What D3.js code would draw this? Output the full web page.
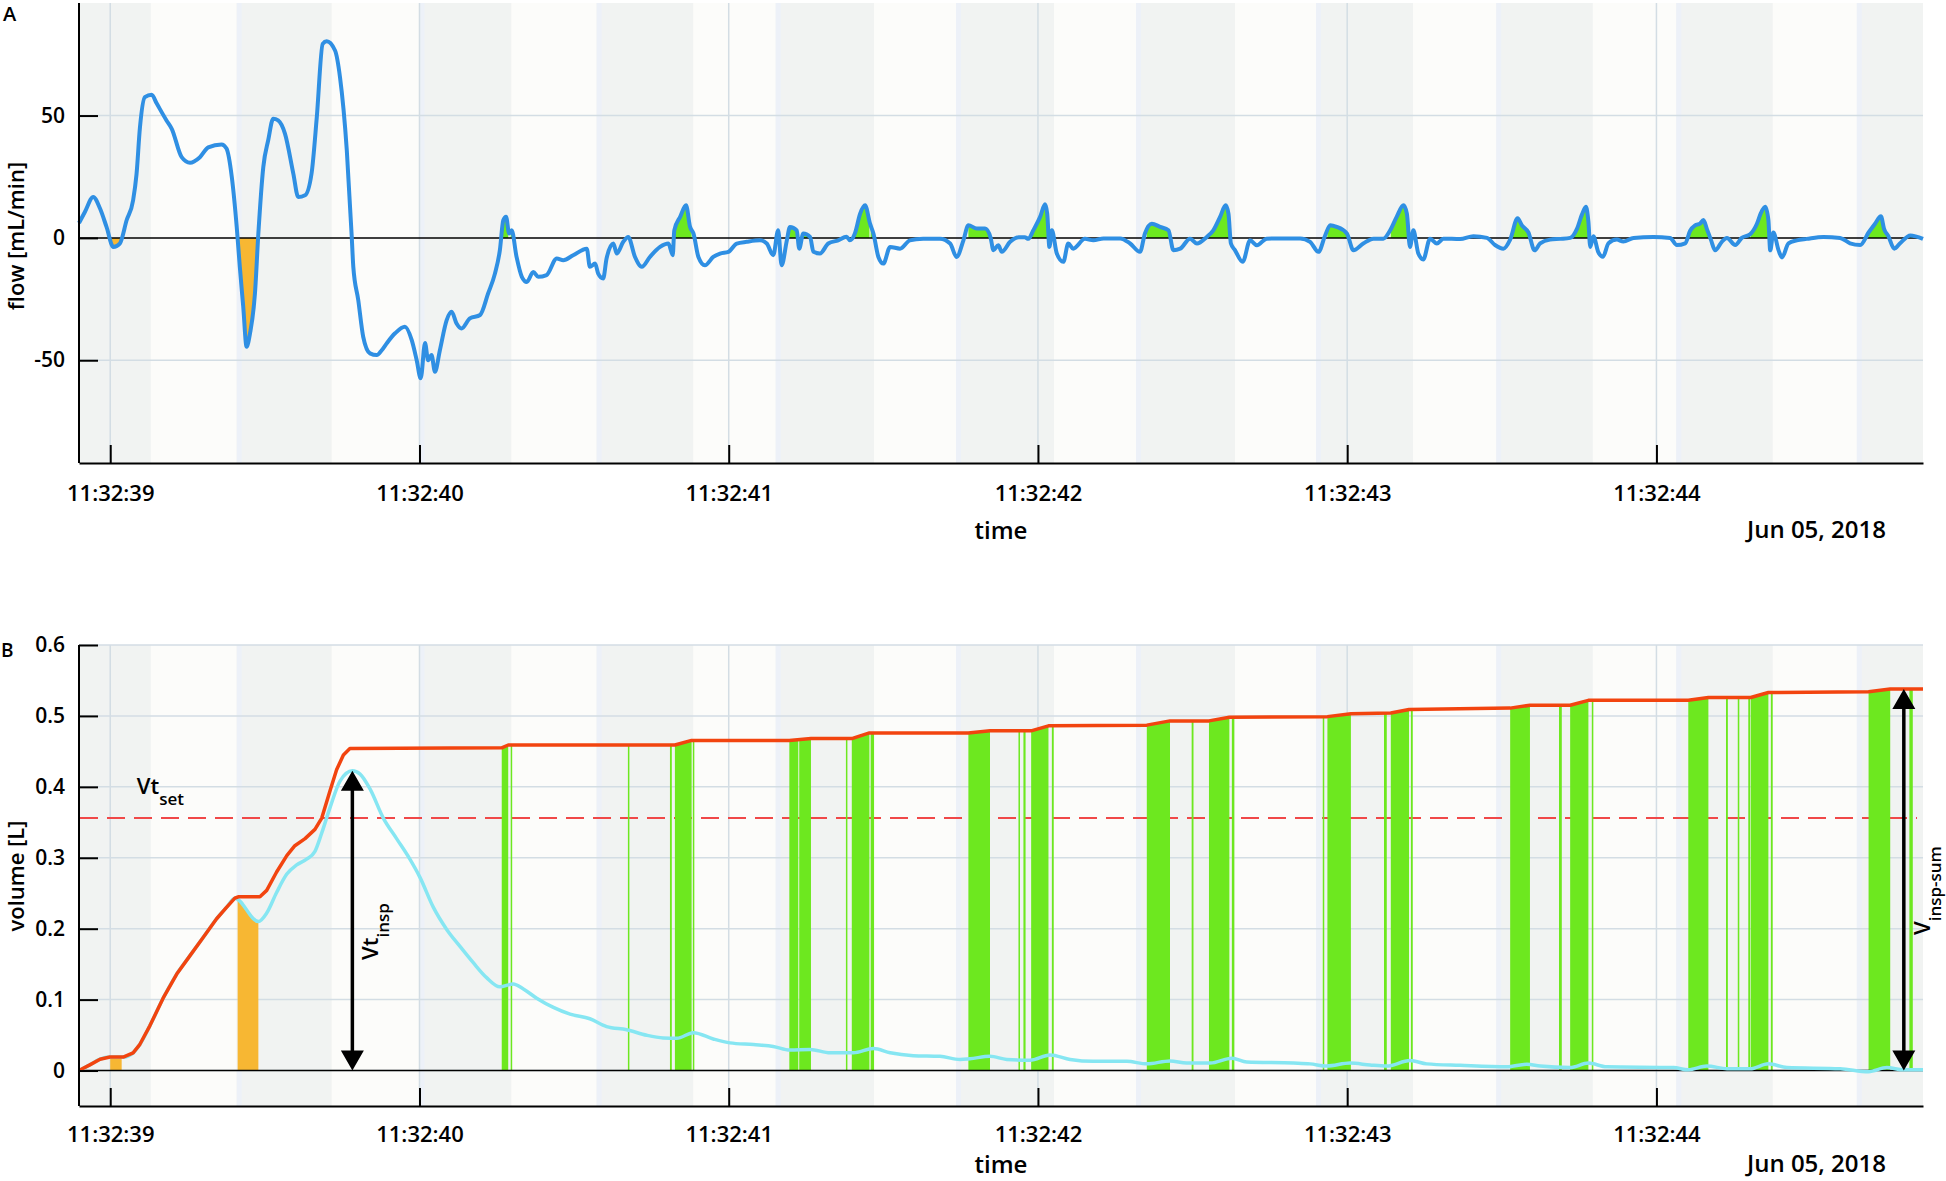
<!DOCTYPE html>
<html lang="en">
<head>
<meta charset="utf-8">
<title>flow and volume</title>
<script src="https://d3js.org/d3.v7.min.js"></script>
<style>
  body { margin: 0; background: #fff; }
  svg { display: block; font-family: "Open Sans", sans-serif; font-weight: 600; }
</style>
</head>
<body>
<svg id="chart" width="1946" height="1181"></svg>
<script>

// all times are seconds after 11:32:00, Jun 05 2018

// shaded breathing phases
var bandStart = [38.899, 39.409, 40.000, 40.573, 41.152, 41.735, 42.317, 42.899, 43.482, 44.064, 44.648];
var bandEnd   = [39.131, 39.716, 40.297, 40.885, 41.470, 42.052, 42.637, 43.213, 43.794, 44.376, 44.862];

// flow signal (panel A)
var flowT = [38.899, 38.918, 38.945, 38.967, 38.988, 39.010, 39.031, 39.053, 39.074, 39.085, 39.096, 39.112, 39.134, 39.150,
  39.182, 39.199, 39.231, 39.258, 39.290, 39.317, 39.360, 39.376, 39.393, 39.409, 39.419, 39.430, 39.441, 39.452, 39.468,
  39.479, 39.495, 39.511, 39.527, 39.543, 39.565, 39.592, 39.608, 39.630, 39.651, 39.668, 39.687, 39.700, 39.727, 39.743,
  39.765, 39.781, 39.786, 39.802, 39.818, 39.840, 39.862, 39.878, 39.894, 39.921, 39.953, 39.975, 39.991, 40.004, 40.018,
  40.028, 40.039, 40.050, 40.066, 40.088, 40.104, 40.120, 40.136, 40.163, 40.196, 40.222, 40.244, 40.260, 40.271, 40.280,
  40.290, 40.298, 40.314, 40.331, 40.347, 40.368, 40.384, 40.411, 40.444, 40.465, 40.497, 40.541, 40.551, 40.568, 40.578,
  40.594, 40.605, 40.627, 40.638, 40.659, 40.675, 40.697, 40.719, 40.745, 40.778, 40.805, 40.819, 40.824, 40.843, 40.862,
  40.875, 40.886, 40.902, 40.923, 40.950, 40.972, 40.999, 41.026, 41.058, 41.101, 41.123, 41.144, 41.160, 41.171, 41.188,
  41.198, 41.220, 41.228, 41.241, 41.263, 41.274, 41.295, 41.322, 41.354, 41.381, 41.392, 41.408, 41.425, 41.441, 41.457,
  41.468, 41.484, 41.500, 41.522, 41.554, 41.586, 41.629, 41.683, 41.716, 41.737, 41.759, 41.775, 41.802, 41.829, 41.847,
  41.856, 41.872, 41.883, 41.910, 41.938, 41.957, 41.969, 41.985, 42.007, 42.023, 42.030, 42.037, 42.045, 42.061, 42.082,
  42.098, 42.114, 42.152, 42.179, 42.212, 42.266, 42.298, 42.330, 42.346, 42.368, 42.395, 42.422, 42.438, 42.460, 42.492,
  42.514, 42.546, 42.567, 42.589, 42.607, 42.616, 42.624, 42.637, 42.662, 42.686, 42.708, 42.740, 42.794, 42.848, 42.880,
  42.907, 42.929, 42.945, 42.966, 42.999, 43.020, 43.052, 43.085, 43.117, 43.139, 43.160, 43.182, 43.193, 43.203, 43.214,
  43.230, 43.246, 43.268, 43.290, 43.311, 43.365, 43.408, 43.452, 43.478, 43.505, 43.527, 43.551, 43.565, 43.586, 43.606,
  43.624, 43.656, 43.689, 43.721, 43.743, 43.759, 43.772, 43.780, 43.786, 43.796, 43.812, 43.827, 43.845, 43.872, 43.893,
  43.926, 43.990, 44.044, 44.066, 44.093, 44.109, 44.125, 44.141, 44.152, 44.163, 44.176, 44.190, 44.212, 44.228, 44.255,
  44.276, 44.303, 44.325, 44.338, 44.352, 44.362, 44.368, 44.378, 44.395, 44.406, 44.427, 44.454, 44.486, 44.540, 44.594,
  44.626, 44.659, 44.686, 44.707, 44.726, 44.736, 44.750, 44.769, 44.788, 44.821, 44.862];
var flowV = [6.1, 10.6, 16.7, 12, 4.5, -3.7, -2.3, 7.2, 15.4, 26, 45, 57.5, 58.5, 55,
  48, 44.6, 33, 30.7, 33, 37, 38.2, 36.5, 25, 4.5, -11.8, -28, -44.5, -39, -22.7,
  1.8, 29, 40, 48.7, 48, 42.6, 26.3, 16.7, 17.4, 26.3, 49.4, 79.3, 80.4, 76.6, 65.7,
  35.8, 0.4, -11.8, -25.4, -40.4, -47.2, -47.9, -45.9, -43.1, -39, -36.3, -41.8, -50, -57.4, -43,
  -50, -47.9, -54.7, -45.9, -33.6, -30.2, -35, -37, -32.9, -31.5, -22.7, -14.6, -5, 7.2, 8.6,
  1.8, 3.1, -7.8, -15.9, -18, -13.9, -15.9, -15.2, -8.4, -9.1, -7.1, -4.4, -11.8, -10.5, -14.6,
  -16.6, -8.4, -2.3, -6.4, -1.6, 0.4, -7.8, -11.8, -7.8, -3.7, -2.3, -7.1, 3.1, 8.6, 13.3,
  4.5, 1.8, -7.8, -11.2, -7.8, -6.4, -5.7, -2.3, -1.6, -1, -2.3, -7.1, 3.1, -11.2, -1,
  4.5, 3.1, -4.4, 1.8, 0.4, -5.7, -6.4, -2.3, -1, 0.5, -1, 1.8, 9.9, 13.3, 5.8,
  1.8, -7.8, -10.5, -3.7, -4.4, -1, -0.4, -0.3, -2.3, -7.8, -1, 5.2, 3.8, 3.8, 0,
  -5, -3, -5.7, -1.6, 0.3, 0.3, -0.4, 3.1, 8.6, 13.7, 9.9, -3.7, 3.1, -6.4, -9.8,
  -2.3, -4.4, -0.4, -1, -0.2, -0.2, -2.3, -5.7, 1.8, 5.8, 4.5, 3.1, -5, -4.4, -0.3,
  -2.3, 0.4, 3.1, 8.6, 13.3, 9.9, -2.3, -5, -9.8, -1, -3, -0.3, -0.2, -0.2, -1.6,
  -5.7, 1.1, 5.2, 4.5, 1.8, -5, -2.3, -0.3, -0.3, 3.1, 8.6, 13.3, 9.9, -3.7, 3.1,
  -6.4, -8.8, -0.3, -2.3, -0.3, -0.5, 0.7, 0, -2.9, -4.4, -0.7, 8, 5.1, 2.2, -5.1,
  -2.2, -0.7, -0.4, 0, 3.7, 9.5, 12.7, 6.6, -3.7, 0.7, -5.8, -7.7, -2.2, -0.7, -1.5,
  0, 0.4, 0, -2.9, -2.2, 2.9, 5.1, 5.8, 7.3, 3.7, -0.7, -5.1, -1.5, 0, -2.9,
  0, 1.5, 5.8, 10.2, 12.7, 7.3, -5.1, 2.2, -5.1, -8, -2.2, -1, -0.4, 0.4, 0,
  -2.2, -2.9, 2.2, 5.8, 8.8, 3.7, 0.7, -4.4, -2.2, 1, -0.4];

// cumulative inspired volume (red) and volume (cyan), panel B
var redT = [38.899, 38.934, 38.967, 38.999, 39.042, 39.074, 39.096, 39.128, 39.171, 39.215, 39.258, 39.301, 39.344, 39.376,
  39.403, 39.414, 39.484, 39.506, 39.538, 39.571, 39.597, 39.630, 39.662, 39.684, 39.711, 39.732, 39.754, 39.775, 40.266,
  40.287, 40.826, 40.880, 41.196, 41.266, 41.398, 41.455, 41.775, 41.845, 41.978, 42.034, 42.352, 42.427, 42.553, 42.619,
  42.936, 43.012, 43.141, 43.200, 43.527, 43.591, 43.721, 43.780, 44.103, 44.168, 44.305, 44.362, 44.686, 44.756, 44.862];
var redV = [0, 0.008, 0.016, 0.019, 0.019, 0.025, 0.037, 0.063, 0.102, 0.136, 0.162, 0.188, 0.214, 0.230,
  0.243, 0.245, 0.245, 0.254, 0.280, 0.303, 0.317, 0.327, 0.340, 0.356, 0.395, 0.424, 0.445, 0.454, 0.455,
  0.459, 0.459, 0.4655, 0.4655, 0.468, 0.468, 0.476, 0.476, 0.479, 0.479, 0.486, 0.487, 0.493, 0.493, 0.498,
  0.499, 0.503, 0.504, 0.509, 0.511, 0.515, 0.515, 0.522, 0.522, 0.526, 0.526, 0.533, 0.534, 0.538, 0.538];

var cyanT = [38.899, 38.934, 38.967, 38.999, 39.042, 39.074, 39.096, 39.128, 39.171, 39.215, 39.258, 39.301, 39.344, 39.376,
  39.403, 39.479, 39.506, 39.538, 39.571, 39.603, 39.635, 39.662, 39.684, 39.711, 39.743, 39.783, 39.808, 39.840, 39.883,
  39.926, 39.969, 40.002, 40.045, 40.088, 40.131, 40.174, 40.217, 40.260, 40.303, 40.336, 40.379, 40.433, 40.487, 40.551,
  40.605, 40.670, 40.735, 40.788, 40.832, 40.886, 40.950, 41.004, 41.080, 41.144, 41.198, 41.263, 41.328, 41.403, 41.468,
  41.522, 41.597, 41.683, 41.748, 41.780, 41.845, 41.899, 41.974, 42.039, 42.104, 42.179, 42.287, 42.352, 42.427, 42.481,
  42.557, 42.627, 42.675, 42.826, 42.880, 42.934, 43.009, 43.074, 43.128, 43.203, 43.257, 43.365, 43.516, 43.581, 43.624,
  43.721, 43.780, 43.839, 44.055, 44.103, 44.163, 44.228, 44.303, 44.362, 44.422, 44.594, 44.686, 44.745, 44.799, 44.862];
var cyanV = [0, 0.008, 0.016, 0.019, 0.019, 0.025, 0.037, 0.063, 0.102, 0.136, 0.162, 0.188, 0.214, 0.230,
  0.243, 0.210, 0.222, 0.251, 0.277, 0.290, 0.298, 0.309, 0.335, 0.371, 0.408, 0.4226, 0.418, 0.397, 0.356,
  0.327, 0.298, 0.272, 0.230, 0.199, 0.175, 0.152, 0.131, 0.118, 0.122, 0.115, 0.102, 0.089, 0.0795, 0.073,
  0.062, 0.0575, 0.0497, 0.046, 0.0455, 0.0533, 0.0445, 0.039, 0.0366, 0.034, 0.0288, 0.0298, 0.025, 0.025, 0.031,
  0.025, 0.021, 0.020, 0.0157, 0.0167, 0.020, 0.0157, 0.0146, 0.022, 0.0157, 0.013, 0.013, 0.0094, 0.0136, 0.0105,
  0.0105, 0.0173, 0.012, 0.0105, 0.0094, 0.0063, 0.0105, 0.0078, 0.0063, 0.0141, 0.0094, 0.0073, 0.0052, 0.0089, 0.0063,
  0.0042, 0.0105, 0.0052, 0.0042, 0.001, 0.0063, 0.0026, 0.0026, 0.0094, 0.0042, 0.0026, -0.0016, 0.0042, 0.001, 0.001];

// detected inspiration windows (green) and negative-flow windows (orange)
var inspStart = [40.266, 40.295, 40.674, 40.810, 40.826, 40.884, 41.196, 41.228, 41.379, 41.398, 41.459, 41.775, 41.937,
  41.953, 41.978, 42.045, 42.352, 42.497, 42.553, 42.627, 42.921, 42.936, 43.119, 43.141, 43.206, 43.527, 43.685, 43.721,
  43.791, 44.103, 44.225, 44.263, 44.297, 44.305, 44.370, 44.686, 44.818];
var inspEnd = [40.287, 40.298, 40.678, 40.816, 40.880, 40.887, 41.225, 41.266, 41.383, 41.455, 41.470, 41.845, 41.940,
  41.960, 42.034, 42.051, 42.427, 42.503, 42.619, 42.635, 42.925, 43.012, 43.128, 43.200, 43.212, 43.591, 43.694, 43.780,
  43.796, 44.168, 44.231, 44.268, 44.303, 44.362, 44.376, 44.756, 44.829];
var negStart = [39.000, 39.412];
var negEnd = [39.037, 39.479];

var vtSet = 0.356;
var sumArrowT = 44.800;

var xTicks = [39, 40, 41, 42, 43, 44];
var yTicksA = [-50, 0, 50];
var yTicksB = [0, 0.1, 0.2, 0.3, 0.4, 0.5, 0.6];

var base = new Date(2018, 5, 5, 11, 32, 0);
function sec(s) { return new Date(base.getTime() + s * 1000); }

var svg = d3.select('#chart');
var left = 79, right = 1923;

var x = d3.scaleTime().domain([sec(38.899), sec(44.862)]).range([left, right]);
var yA = d3.scaleLinear().domain([-92, 96]).range([463, 3]);
var yB = d3.scaleLinear().domain([-0.05, 0.6]).range([1106, 645]);

var flow = flowT.map(function(t, i) { return {t: sec(t), v: flowV[i]}; });
var red = redT.map(function(t, i) { return {t: sec(t), v: redV[i]}; });
var cyan = cyanT.map(function(t, i) { return {t: sec(t), v: cyanV[i]}; });

var defs = svg.append('defs');

// clip made of time windows, limited vertically
function windowClip(id, starts, ends, y0, y1) {
  defs.append('clipPath').attr('id', id)
    .selectAll('rect').data(starts).join('rect')
    .attr('x', function(d) { return x(sec(d)); })
    .attr('width', function(d, i) { return Math.max(1.5, x(sec(ends[i])) - x(sec(d))); })
    .attr('y', y0).attr('height', y1 - y0);
}

// background bands and grid of one panel
function frame(y, top, bottom, yTicks) {
  var g = svg.append('g');
  g.append('rect').attr('x', left).attr('y', top).attr('width', right - left).attr('height', bottom - top)
    .attr('fill', '#fcfcfa');
  g.selectAll('rect.band').data(bandStart).join('rect').attr('class', 'band')
    .attr('x', function(d) { return x(sec(d)); })
    .attr('width', function(d, i) { return x(sec(bandEnd[i])) - x(sec(d)); })
    .attr('y', top).attr('height', bottom - top)
    .attr('fill', '#f1f3f2');
  g.selectAll('rect.edge').data(bandStart.slice(1)).join('rect').attr('class', 'edge')
    .attr('x', function(d) { return x(sec(d)); })
    .attr('width', 5)
    .attr('y', top).attr('height', bottom - top)
    .attr('fill', '#edf1f8');
  g.selectAll('line.gx').data(xTicks).join('line').attr('class', 'gx')
    .attr('x1', function(d) { return x(sec(d)); }).attr('x2', function(d) { return x(sec(d)); })
    .attr('y1', top).attr('y2', bottom)
    .attr('stroke', '#d3dde4').attr('stroke-width', 1.5);
  g.selectAll('line.gy').data(yTicks).join('line').attr('class', 'gy')
    .attr('x1', left).attr('x2', right)
    .attr('y1', function(d) { return y(d); }).attr('y2', function(d) { return y(d); })
    .attr('stroke', '#d3dde4').attr('stroke-width', 1.5);
}

function axes(y, top, bottom, yTicks, xPad) {
  var gx = svg.append('g').attr('transform', 'translate(0,' + bottom + ')')
    .call(d3.axisBottom(x).tickValues(xTicks.map(sec)).tickFormat(d3.timeFormat('%H:%M:%S'))
      .tickSizeInner(-18).tickSizeOuter(0).tickPadding(xPad));
  gx.attr('font-family', 'Open Sans').attr('font-size', 22);
  var gy = svg.append('g').attr('transform', 'translate(' + left + ',0)')
    .call(d3.axisLeft(y).tickValues(yTicks).tickFormat(function(d) { return String(d); })
      .tickSizeInner(-19).tickSizeOuter(0).tickPadding(14));
  gy.attr('font-family', 'Open Sans').attr('font-size', 21);
  [gx, gy].forEach(function(g) {
    g.selectAll('path, line').attr('stroke', '#000').attr('stroke-width', 2);
    g.selectAll('text').attr('fill', '#000').attr('font-weight', 600);
  });
  gy.select('.domain').attr('d', 'M0,' + top + 'V' + bottom);
}

// ---------- panel A ----------
frame(yA, 3, 463, [-50, 50]);

windowClip('greenA', inspStart, inspEnd, 3, yA(0));
windowClip('orangeA', negStart, negEnd, yA(0), 463);

var areaA = d3.area().curve(d3.curveMonotoneX)
  .x(function(d) { return x(d.t); }).y0(yA(0)).y1(function(d) { return yA(d.v); });

svg.append('path').datum(flow).attr('d', areaA).attr('fill', '#6de81f').attr('clip-path', 'url(#greenA)');
svg.append('path').datum(flow).attr('d', areaA).attr('fill', '#f7b733').attr('clip-path', 'url(#orangeA)');

svg.append('line').attr('x1', left).attr('x2', right).attr('y1', yA(0)).attr('y2', yA(0))
  .attr('stroke', '#000').attr('stroke-width', 1.5);

svg.append('path').datum(flow)
  .attr('d', d3.line().curve(d3.curveMonotoneX).x(function(d) { return x(d.t); }).y(function(d) { return yA(d.v); }))
  .attr('fill', 'none').attr('stroke', '#2f8fe3').attr('stroke-width', 4).attr('stroke-linejoin', 'round');

axes(yA, 3, 463, yTicksA, 22);

// ---------- panel B ----------
frame(yB, 645, 1106, yTicksB);

svg.append('line').attr('x1', left + 1).attr('x2', right - 6).attr('y1', yB(vtSet)).attr('y2', yB(vtSet))
  .attr('stroke', '#f04848').attr('stroke-width', 2).attr('stroke-dasharray', '18,9');

windowClip('greenB', inspStart, inspEnd, 645, yB(0));
windowClip('orangeB', negStart, negEnd, 645, yB(0));

svg.append('path').datum(red)
  .attr('d', d3.area().x(function(d) { return x(d.t); }).y0(yB(0)).y1(function(d) { return yB(d.v); }))
  .attr('fill', '#6de81f').attr('clip-path', 'url(#greenB)');
svg.append('path').datum(cyan)
  .attr('d', d3.area().curve(d3.curveMonotoneX).x(function(d) { return x(d.t); }).y0(yB(0)).y1(function(d) { return yB(d.v); }))
  .attr('fill', '#f7b733').attr('clip-path', 'url(#orangeB)');

svg.append('line').attr('x1', left).attr('x2', right).attr('y1', yB(0)).attr('y2', yB(0))
  .attr('stroke', '#000').attr('stroke-width', 1.5);

svg.append('path').datum(cyan)
  .attr('d', d3.line().curve(d3.curveMonotoneX).x(function(d) { return x(d.t); }).y(function(d) { return yB(d.v); }))
  .attr('fill', 'none').attr('stroke', '#86e6f2').attr('stroke-width', 3.5);
svg.append('path').datum(red)
  .attr('d', d3.line().x(function(d) { return x(d.t); }).y(function(d) { return yB(d.v); }))
  .attr('fill', 'none').attr('stroke', '#f2440f').attr('stroke-width', 3.5).attr('stroke-linejoin', 'round');

// double arrows
function arrow(t, v) {
  var xa = x(t), yTop = yB(v), yBot = yB(0), hw = 11.5, hh = 20;
  var g = svg.append('g');
  g.append('line').attr('x1', xa).attr('x2', xa).attr('y1', yTop + hh - 2).attr('y2', yBot - hh + 2)
    .attr('stroke', '#000').attr('stroke-width', 3.5);
  g.append('path').attr('fill', '#000')
    .attr('d', 'M' + xa + ',' + yTop + 'L' + (xa - hw) + ',' + (yTop + hh) + 'L' + (xa + hw) + ',' + (yTop + hh) + 'Z' +
      'M' + xa + ',' + yBot + 'L' + (xa - hw) + ',' + (yBot - hh) + 'L' + (xa + hw) + ',' + (yBot - hh) + 'Z');
  return xa;
}

function subLabel(xPos, yPos, main, sub, rotate) {
  var t = svg.append('text')
    .attr('transform', 'translate(' + xPos + ',' + yPos + ')' + (rotate ? ' rotate(-90)' : ''))
    .attr('font-size', 22).attr('fill', '#000');
  t.append('tspan').text(main);
  t.append('tspan').attr('dy', 11).attr('font-size', 17).text(sub);
}

var peak = d3.greatest(cyan, function(d) { return d.v; });
var xa1 = arrow(peak.t, peak.v);
subLabel(xa1 + 26, yB(0.156), 'Vt', 'insp', true);

var xa2 = arrow(sec(sumArrowT), redV[redV.length - 1]);
subLabel(xa2 + 26, yB(0.191), 'V', 'insp-sum', true);

subLabel(x(sec(39.086)), yB(0.39), 'Vt', 'set', false);

axes(yB, 645, 1106, yTicksB, 20);

// ---------- labels ----------
svg.append('text').attr('x', 3).attr('y', 21).attr('font-size', 20).text('A');
svg.append('text').attr('x', 1).attr('y', 657).attr('font-size', 19).text('B');

svg.append('text').attr('transform', 'translate(24,236) rotate(-90)').attr('text-anchor', 'middle')
  .attr('font-size', 22).text('flow [mL/min]');
svg.append('text').attr('transform', 'translate(24,876) rotate(-90)').attr('text-anchor', 'middle')
  .attr('font-size', 22).text('volume [L]');

[539, 1173].forEach(function(yy) {
  svg.append('text').attr('x', 1001).attr('y', yy).attr('text-anchor', 'middle').attr('font-size', 24).text('time');
  svg.append('text').attr('x', 1886).attr('y', yy - 1).attr('text-anchor', 'end').attr('font-size', 24).text('Jun 05, 2018');
});

</script>
</body>
</html>
